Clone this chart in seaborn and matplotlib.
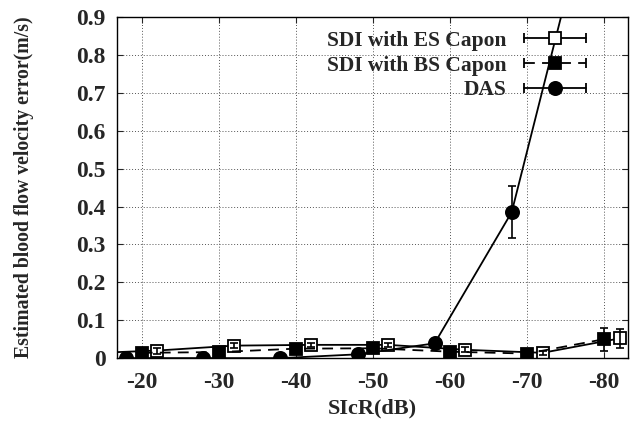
import matplotlib

matplotlib.use("Agg")

import matplotlib.pyplot as plt
import numpy as np
import pandas as pd
import seaborn as sns
from matplotlib.legend_handler import HandlerLine2D, HandlerTuple

# SIcR (dB) for each series, offset slightly so error bars don't overlap
es_x = [-12, -22, -32, -42, -52, -62, -72, -82]
bs_x = [-20, -30, -40, -50, -60, -70, -80]
das_x = [-18, -28, -38, -48, -58, -68, -78]

es_err = [0.012, 0.020, 0.033, 0.035, 0.035, 0.022, 0.014, 0.052]
es_sd = [0.006, 0.008, 0.006, 0.006, 0.006, 0.007, 0.006, 0.025]
bs_err = [0.014, 0.016, 0.025, 0.026, 0.017, 0.012, 0.050]
bs_sd = [0.004, 0.004, 0.004, 0.004, 0.004, 0.004, 0.030]
das_err = [0.0, 0.0, 0.0, 0.01, 0.039, 0.385, 1.19]
das_sd = [0.003, 0.003, 0.003, 0.003, 0.006, 0.068, 0.1]

xticks = [-20, -30, -40, -50, -60, -70, -80]

sns.set_style("ticks")
plt.rcParams["font.family"] = ["Liberation Serif", "DejaVu Serif"]
plt.rcParams["font.weight"] = "bold"

df = pd.concat([
    pd.DataFrame({"x": es_x, "y": es_err, "sd": es_sd, "s": "SDI with ES Capon"}),
    pd.DataFrame({"x": bs_x, "y": bs_err, "sd": bs_sd, "s": "SDI with BS Capon"}),
    pd.DataFrame({"x": das_x, "y": das_err, "sd": das_sd, "s": "DAS"}),
])

styles = {
    "SDI with ES Capon": dict(ls="-", marker="s", mfc="white", ms=9),
    "SDI with BS Capon": dict(ls=(0, (6, 4)), marker="s", mfc="black", ms=8.5),
    "DAS": dict(ls="-", marker="o", mfc="black", ms=9.5),
}

fig = plt.figure(figsize=(6.39, 4.32), dpi=100)
ax = fig.add_axes([0.1826, 0.171, 0.7997, 0.7896])

handles = []
hmap = {tuple: HandlerTuple(ndivide=1)}
for name, st in styles.items():
    d = df[df["s"] == name]
    sns.lineplot(data=d, x="x", y="y", ax=ax, color="black", lw=1.3,
                 linestyle=st["ls"], marker=st["marker"], markersize=st["ms"],
                 markerfacecolor=st["mfc"], markeredgecolor="black",
                 markeredgewidth=1.3, sort=False, estimator=None, legend=False)
    ax.errorbar(d["x"], d["y"], yerr=d["sd"], fmt="none", ecolor="black",
                elinewidth=1.2, capsize=3, capthick=1.2)
    # gnuplot-style key entry: line with end caps plus the point symbol
    cap_line = plt.Line2D([], [], color="black", lw=1.3, linestyle=st["ls"],
                          marker="|", markersize=7, markeredgewidth=1.3)
    mark = plt.Line2D([], [], color="black", linestyle="none",
                      marker=st["marker"], markersize=st["ms"],
                      markerfacecolor=st["mfc"], markeredgecolor="black",
                      markeredgewidth=1.3)
    hmap[cap_line] = HandlerLine2D(numpoints=2)
    handles.append((cap_line, mark))

ax.set_xlim(-16.75, -83.05)
ax.set_ylim(0, 0.9)
ax.set_xticks(xticks)
ax.set_xticklabels([str(t) for t in xticks])
ax.set_yticks(np.arange(0, 0.91, 0.1))
ax.set_yticklabels(["0"] + [f"{v:.1f}" for v in np.arange(0.1, 0.91, 0.1)])
ax.grid(True, color="#555555", linestyle=(0, (1, 2)), linewidth=0.7)
ax.tick_params(direction="in", top=True, right=True, labelsize=17, length=4)
ax.tick_params(axis="x", pad=10)
ax.tick_params(axis="y", pad=8)
for sp in ax.spines.values():
    sp.set_linewidth(1.0)
    sp.set_color("black")

ax.set_xlabel("SIcR(dB)", fontsize=16, fontweight="bold", labelpad=4)
ax.set_ylabel("Estimated blood flow velocity error(m/s)", fontsize=14.2,
              fontweight="bold", labelpad=30)

leg = ax.legend(handles, list(styles.keys()), handler_map=hmap,
                loc="upper right", bbox_to_anchor=(0.948, 0.985), frameon=False,
                markerfirst=False, fontsize=15.5, handlelength=3.5,
                handletextpad=0.5, labelspacing=0.22, borderaxespad=0)

fig.savefig("out.png", dpi=100)
